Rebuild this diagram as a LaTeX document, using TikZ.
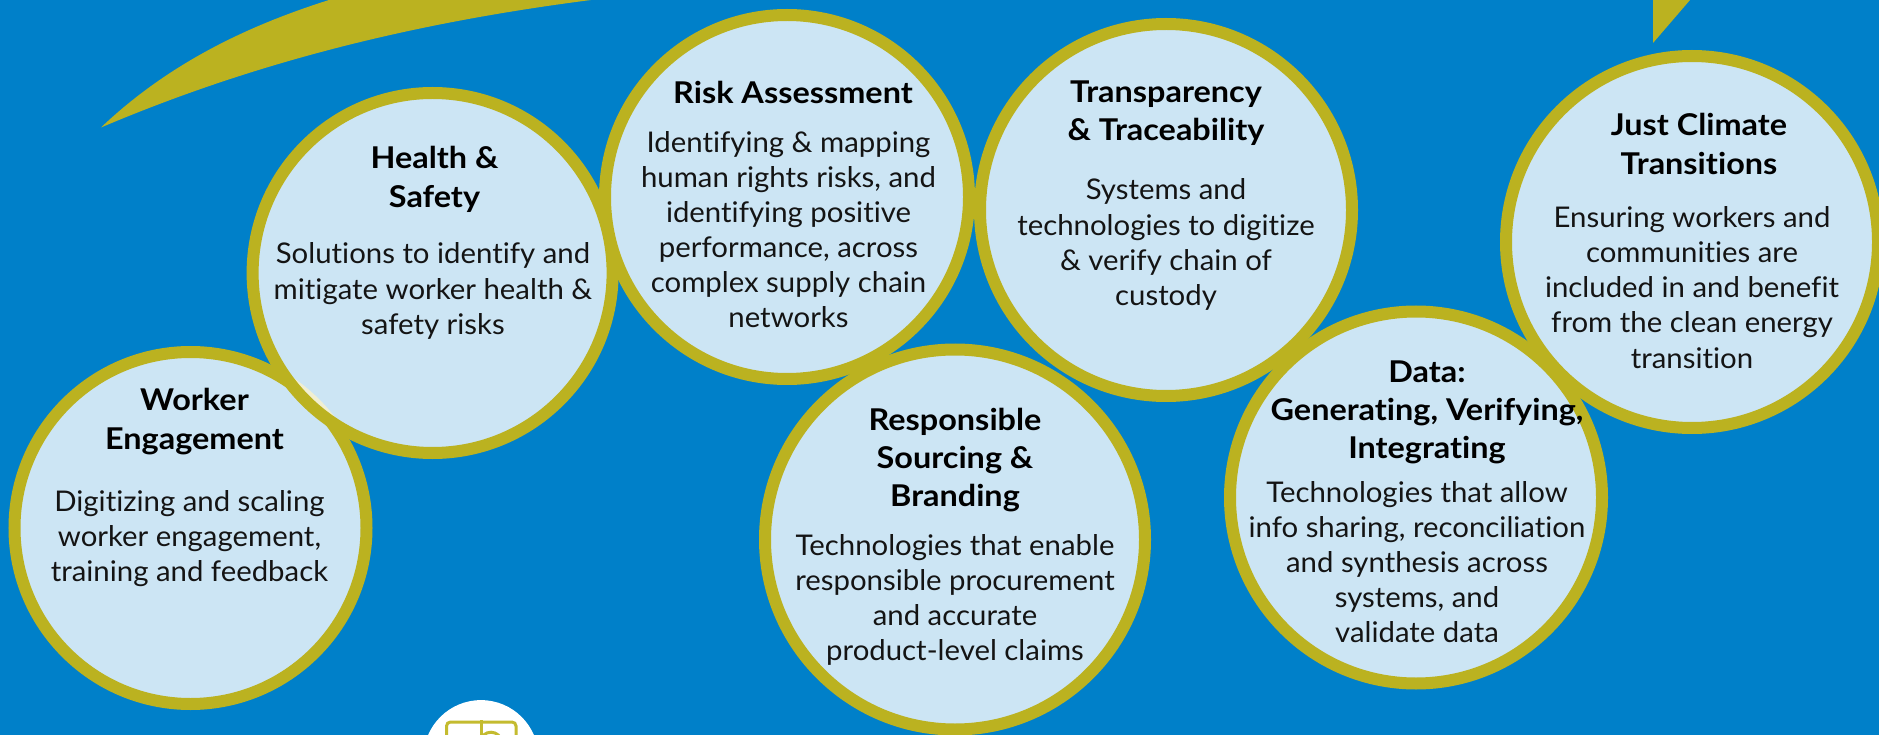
\documentclass[tikz,border=0pt]{standalone}
\usepackage{fontspec}
\setmainfont{Lato}[RawFeature={-liga;-dlig;-clig}]
\newfontfamily\ttlfont{Lato}[BoldFont={Lato Bold},FakeStretch=1.08,RawFeature={-liga;-dlig;-clig}]
\newfontfamily\bdyfont{Lato}[FakeStretch=1.03,RawFeature={-liga;-dlig;-clig}]
\definecolor{bgblue}{HTML}{0080C9}
\definecolor{olivey}{HTML}{BBB220}
\definecolor{icony}{HTML}{C4BB2F}
\tikzset{
  ring/.style={circle,inner sep=0pt,outer sep=0pt,draw=olivey,line width=12pt,fill=white,fill opacity=0.8},
  ttl/.style={align=center,inner sep=0pt,text=black,font=\ttlfont\fontsize{30}{38.4}\selectfont\bfseries},
  bdy/.style={align=center,inner sep=0pt,text=black!92,font=\bdyfont\fontsize{28.5}{35.1}\selectfont},
}
\begin{document}
\begin{tikzpicture}[x=1pt,y=-1pt]
\useasboundingbox (0,0) rectangle (1879,735);
\clip (0,0) rectangle (1879,735);
\fill[bgblue] (0,0) rectangle (1879,735);
% swoosh and tip
\fill[olivey] (101,127.5) .. controls (170,62) and (250,25) .. (329,0) -- (591,0) .. controls (420,22) and (260,60) .. cycle;
\fill[olivey] (1653,43) -- (1653,0) -- (1690,0) -- cycle;
% bottom icon
\node[circle,fill=white,inner sep=0pt,minimum size=115pt] (iconbg) at (481,757.6) {};
\draw[icony,line width=3pt,rounded corners=4pt] (446.5,745) -- (446.5,722) -- (516,722) -- (516,745);
\draw[icony,line width=3pt] (481,720) -- (481,745);
\draw[icony,line width=3pt] (481,738) .. controls (484,733) and (490,731) .. (495,733) .. controls (500,735) and (502,740) .. (502,745);
% circles
\node[ring,minimum size=352pt] (worker) at (190.5,528) {};
\node[ring,minimum size=360pt] (health) at (432.6,273) {};
\node[ring,minimum size=364pt] (risk) at (787,197) {};
\node[ring,minimum size=372pt] (transp) at (1166,210) {};
\node[ring,minimum size=380pt] (resp) at (955,539.5) {};
\node[ring,minimum size=372pt] (data) at (1416,497.5) {};
\node[ring,minimum size=372pt] (just) at (1692,242) {};
% text
\node[ttl] (t1) at (194.5,421.4) {Worker\\Engagement};
\node[bdy] (b1) at (189.5,539) {Digitizing and scaling\\worker engagement,\\training and feedback};
\node[ttl] (t2) at (434.5,179.4) {Health \&\\Safety};
\node[bdy] (b2) at (433,291) {Solutions to identify and\\mitigate worker health \&\\safety risks};
\node[ttl] (t3) at (793,92) {Risk Assessment};
\node[bdy] (b3) at (788.5,229.5) {Identifying \& mapping\\human rights risks, and\\identifying positive\\performance, across\\complex supply chain\\networks};
\node[ttl] (t4) at (1166,113) {Transparency\\\& Traceability};
\node[bdy] (b4) at (1166,244.5) {Systems and\\technologies to digitize\\\& verify chain of\\custody};
\node[ttl] (t5) at (955,460) {Responsible\\Sourcing \&\\Branding};
\node[bdy] (b5) at (955,600) {Technologies that enable\\responsible procurement\\and accurate\\product-level claims};
\node[ttl] (t6) at (1427,412.4) {Data:\\Generating, Verifying,\\Integrating};
\node[bdy] (b6) at (1417,562) {Technologies that allow\\info sharing, reconciliation\\and synthesis across\\systems, and\\validate data};
\node[ttl] (t7) at (1699,144) {Just Climate\\Transitions};
\node[bdy] (b7) at (1692,287.5) {Ensuring workers and\\communities are\\included in and benefit\\from the clean energy\\transition};
\end{tikzpicture}
\end{document}
